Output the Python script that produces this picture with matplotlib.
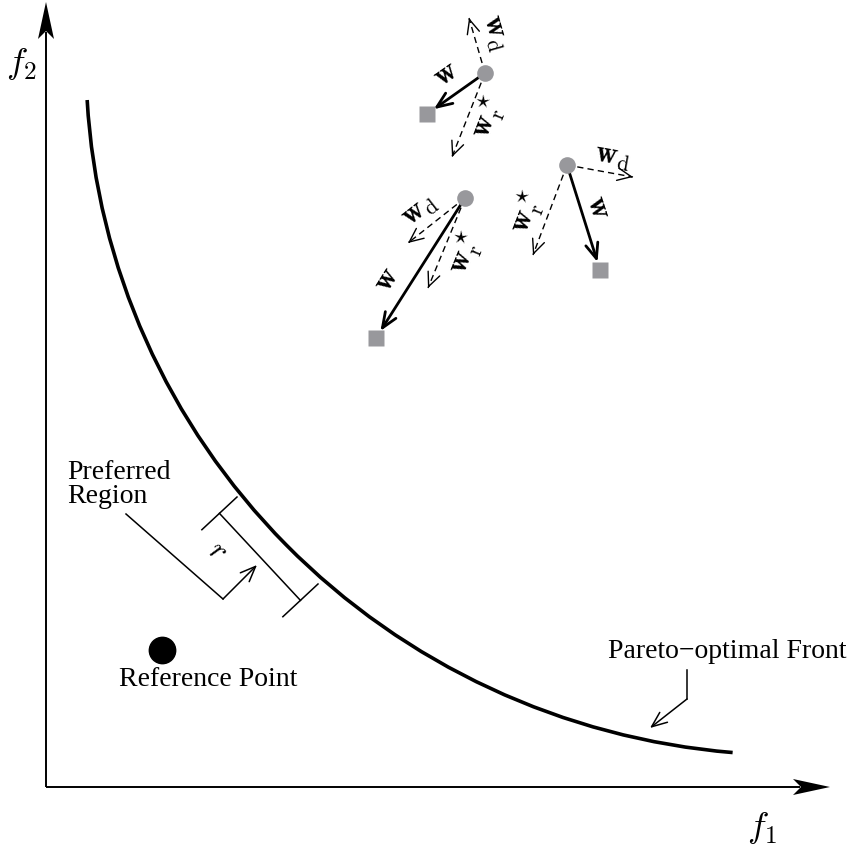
import numpy as np
import matplotlib
matplotlib.use("Agg")
import matplotlib.pyplot as plt
from matplotlib.patches import Arc, Polygon

plt.rcParams['font.family'] = ['Liberation Serif', 'DejaVu Serif']
plt.rcParams['mathtext.fontset'] = 'cm'

# canvas units are pixels, y grows downwards
W, H = 848, 850
origin = (46, 787)
x_tip = 830
y_tip = 2

# Pareto front drawn as an elliptical arc
front_center = (792, 60)
front_axes = (706, 695)
front_angles = (94.9, 176.75)

ref_point = (162, 650)

# preferred region on the front
region_ends = [(237, 497), (318, 584)]
tick_len = 48
leader = [(126, 514), (223, 599)]
r_arrow_tip = (257, 565)

pareto_leader = [(687, 670), (687, 699)]
pareto_arrow_tip = (650, 728)

# weight vectors: start, end of w, end of w_d, end of w_r*
vec_start = [(485, 73), (465, 198), (567, 165)]
vec_w_end = [(427, 114), (376, 338), (600, 270)]
vec_wd_end = [(469, 18), (408, 243), (633, 177)]
vec_wr_end = [(452, 157), (428, 288), (533, 255)]

# label positions and angles
w_lbl = [((446, 75), 35), ((387, 280), 58), ((598, 207), -72)]
wd_lbl = [((495, 33), -74), ((420, 210), 38), ((613, 157), -10)]
wr_lbl = [((488, 117), 69), ((465, 253), 68), ((527, 212), 69)]

grey = '#98989c'

fig = plt.figure(figsize=(W / 100, H / 100), dpi=100)
ax = fig.add_axes([0, 0, 1, 1])
ax.set_xlim(0, W)
ax.set_ylim(H, 0)
ax.axis('off')


def filled_head(tip, direction, length=37, half=8, notch=8):
    d = np.asarray(direction, float)
    d /= np.hypot(*d)
    n = np.array([-d[1], d[0]])
    t = np.asarray(tip, float)
    base = t - d * length
    pts = [t, base + n * half, t - d * (length - notch), base - n * half]
    ax.add_patch(Polygon(pts, closed=True, color='k', lw=0, zorder=5))


# axes
ax.plot([origin[0], origin[0]], [origin[1], y_tip + 30], color='k', lw=1.4,
        solid_capstyle='butt')
ax.plot([origin[0], x_tip - 30], [origin[1], origin[1]], color='k', lw=1.4,
        solid_capstyle='butt')
filled_head((origin[0], y_tip), (0, -1))
filled_head((x_tip, origin[1]), (1, 0))
ax.text(22, 64, r'$f_2$', fontsize=26, ha='center', va='center')
ax.text(762, 828, r'$f_1$', fontsize=26, ha='center', va='center')

# front
ax.add_patch(Arc(front_center, 2 * front_axes[0], 2 * front_axes[1],
                 theta1=front_angles[0], theta2=front_angles[1],
                 color='k', lw=2.6))

# reference point
ax.plot(*ref_point, 'o', color='k', ms=19)
ax.text(ref_point[0] + 46, 679, 'Reference Point', fontsize=20,
        ha='center', va='center')

# preferred region ticks and inner line
p0, p1 = np.array(region_ends, float)
chord = (p1 - p0) / np.hypot(*(p1 - p0))
nrm = np.array([-chord[1], chord[0]])
for p in (p0, p1):
    q = p + nrm * tick_len
    ax.plot([p[0], q[0]], [p[1], q[1]], color='k', lw=1.1)
a, b = p0 + nrm * tick_len / 2, p1 + nrm * tick_len / 2
ax.plot([a[0], b[0]], [a[1], b[1]], color='k', lw=1.1)

ax.plot(*zip(*leader), color='k', lw=1.1)
ax.annotate('', xy=r_arrow_tip, xytext=leader[1],
            arrowprops=dict(arrowstyle='->,head_length=1.1,head_width=0.45',
                            color='k', lw=1.1, shrinkA=0, shrinkB=0))
ax.text(217, 552, r'$r$', fontsize=22, ha='center', va='center', rotation=-40)
ax.text(67, 503, 'Preferred\nRegion', fontsize=20, ha='left', va='baseline',
        linespacing=0.95)

# Pareto front label
ax.text(727, 651, 'Pareto\u2212optimal Front', fontsize=20, ha='center',
        va='center')
ax.plot(*zip(*pareto_leader), color='k', lw=1.1)
ax.annotate('', xy=pareto_arrow_tip, xytext=pareto_leader[1],
            arrowprops=dict(arrowstyle='->,head_length=1.1,head_width=0.45',
                            color='k', lw=1.1, shrinkA=0, shrinkB=0))


def dashed_arrow(start, end):
    s = np.asarray(start, float)
    e = np.asarray(end, float)
    d = (e - s) / np.hypot(*(e - s))
    ax.plot([s[0], e[0]], [s[1], e[1]], color='k', lw=1.0,
            dashes=(4.5, 3), zorder=2)
    ax.annotate('', xy=tuple(e), xytext=tuple(e - d * 2),
                arrowprops=dict(arrowstyle='->,head_length=1.0,head_width=0.45',
                                color='k', lw=1.0, shrinkA=0, shrinkB=0),
                zorder=2)


for i in range(3):
    s, e = vec_start[i], vec_w_end[i]
    ax.annotate('', xy=e, xytext=s,
                arrowprops=dict(arrowstyle='->,head_length=1.1,head_width=0.45',
                                color='k', lw=2.0, shrinkA=0, shrinkB=6),
                zorder=3)
    dashed_arrow(s, vec_wd_end[i])
    dashed_arrow(s, vec_wr_end[i])
    ax.plot(*s, 'o', color=grey, ms=12, mec='none', zorder=6)
    ax.plot(*e, 's', color=grey, ms=12, mec='none', zorder=6)

    (x, y), rot = w_lbl[i]
    ax.text(x, y, r'$\mathbf{w}$', fontsize=22, ha='center', va='center',
            rotation=rot)
    (x, y), rot = wd_lbl[i]
    ax.text(x, y, r'$\mathbf{w}_\mathrm{d}$', fontsize=22, ha='center',
            va='center', rotation=rot)
    (x, y), rot = wr_lbl[i]
    ax.text(x, y, r'$\mathbf{w}^\star_\mathrm{r}$', fontsize=22, ha='center',
            va='center', rotation=rot)

fig.savefig('out.png', dpi=100)
